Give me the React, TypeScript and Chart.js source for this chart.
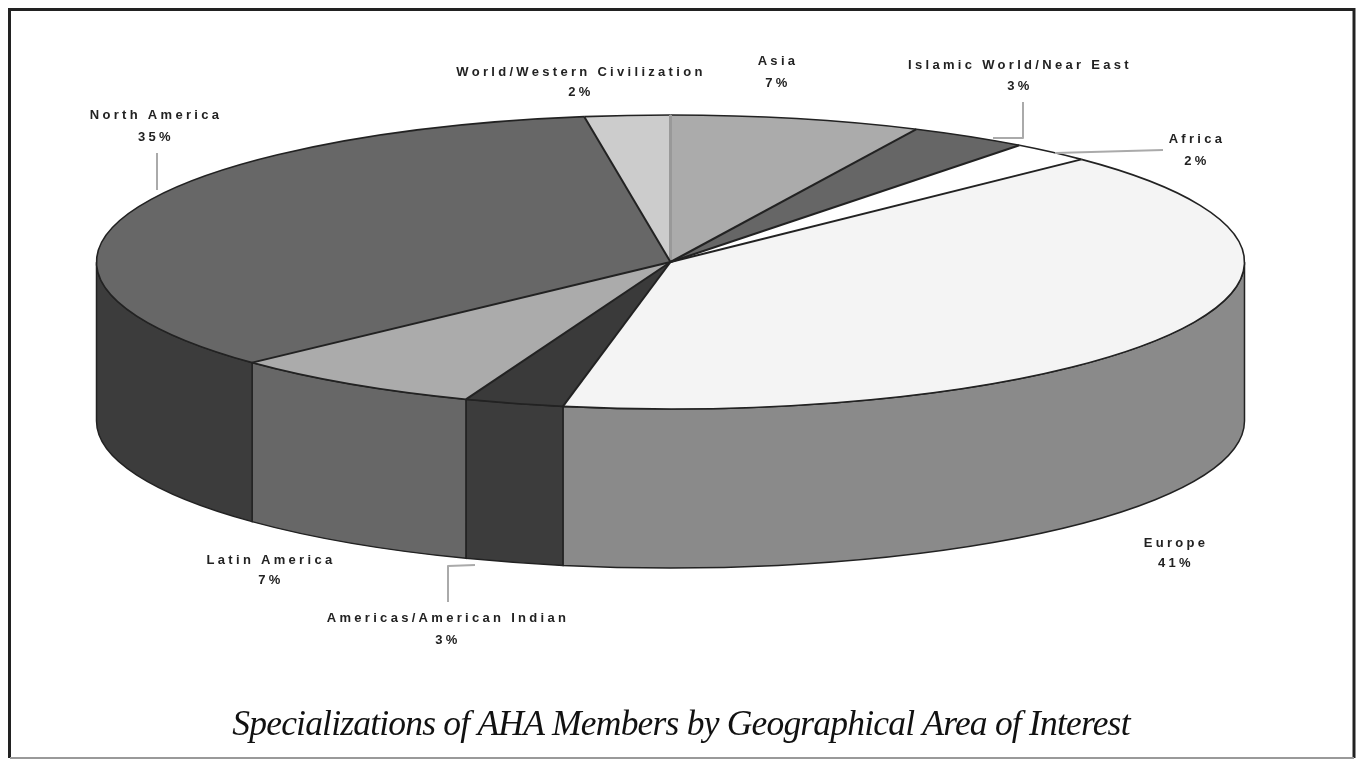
import React, { useEffect, useRef } from "react";
import { Chart, registerables } from "chart.js";

Chart.register(...registerables);

const categories = [
  "Asia",
  "Islamic World/Near East",
  "Africa",
  "Europe",
  "Americas/American Indian",
  "Latin America",
  "North America",
  "World/Western Civilization",
];
const shares = [7.05, 3.35, 2.3, 40.3, 2.8, 7.2, 34.6, 2.4];
const percentLabels = ["7%", "3%", "2%", "41%", "3%", "7%", "35%", "2%"];
const topColors = ["#ababab", "#666666", "#ffffff", "#f4f4f4", "#3a3a3a", "#ababab", "#676767", "#cccccc"];
const wallColors = ["#888888", "#444444", "#dddddd", "#8a8a8a", "#3c3c3c", "#676767", "#3c3c3c", "#999999"];
const chartTitle = "Specializations of AHA Members by Geographical Area of Interest";

// label centre x, first-line y, second-line y
const labelPlaces = [
  [778, 61, 83],
  [1020, 65, 86],
  [1197, 139, 161],
  [1176, 543, 563],
  [448, 618, 640],
  [271, 560, 580],
  [156, 115, 137],
  [581, 72, 92],
];
const leaderLines = [
  [[1023, 102], [1023, 138], [993, 138]],
  [[1163, 150], [1055, 153]],
  [[157, 153], [157, 190]],
  [[448, 602], [448, 566], [475, 565]],
];
const PIE = { cx: 670.5, cy: 262, rx: 574, ry: 147, depth: 159 };

const pie3d = {
  id: "pie3d",
  beforeDraw(chart: any) {
    const { ctx, width, height } = chart;
    ctx.save();
    ctx.fillStyle = "#ffffff";
    ctx.fillRect(0, 0, width, height);
    ctx.strokeStyle = "#222222";
    ctx.lineWidth = 3;
    ctx.beginPath();
    ctx.moveTo(9.5, height - 2);
    ctx.lineTo(9.5, 9.5);
    ctx.lineTo(1354, 9.5);
    ctx.lineTo(1354, height - 2);
    ctx.stroke();
    ctx.strokeStyle = "#999999";
    ctx.lineWidth = 2;
    ctx.beginPath();
    ctx.moveTo(10, height - 2);
    ctx.lineTo(1354, height - 2);
    ctx.stroke();
    ctx.restore();
    // the title box is drawn next, with this tighter tracking
    ctx.letterSpacing = "-0.8px";
  },
  beforeDatasetsDraw(chart: any) {
    const { ctx } = chart;
    ctx.letterSpacing = "0px";
    const arcs = chart.getDatasetMeta(0).data;
    const { cx, cy, rx, ry, depth } = PIE;
    // side wall of the disc, only where a slice faces the viewer
    arcs.forEach((arc: any, i: number) => {
      const a0 = Math.max(arc.startAngle, 0);
      const a1 = Math.min(arc.endAngle, Math.PI);
      if (a1 <= a0) return;
      ctx.beginPath();
      ctx.ellipse(cx, cy, rx, ry, 0, a0, a1);
      ctx.ellipse(cx, cy + depth, rx, ry, 0, a1, a0, true);
      ctx.closePath();
      ctx.fillStyle = wallColors[i];
      ctx.fill();
      ctx.strokeStyle = "#222222";
      ctx.lineWidth = 1.5;
      ctx.stroke();
    });
    // the library draws its circular arcs through this squash
    const first = arcs[0];
    ctx.save();
    ctx.translate(cx, cy);
    ctx.scale(rx / first.outerRadius, ry / first.outerRadius);
    ctx.translate(-first.x, -first.y);
  },
  afterDatasetsDraw(chart: any) {
    const { ctx } = chart;
    ctx.restore();
    const arcs = chart.getDatasetMeta(0).data;
    const { cx, cy, rx, ry } = PIE;
    ctx.save();
    ctx.lineJoin = "round";
    arcs.forEach((arc: any) => {
      ctx.strokeStyle = "#222222";
      ctx.lineWidth = 1.6;
      ctx.beginPath();
      ctx.ellipse(cx, cy, rx, ry, 0, arc.startAngle, arc.endAngle);
      ctx.stroke();
    });
    arcs.forEach((arc: any, i: number) => {
      const isSeam = i === 0;
      ctx.strokeStyle = isSeam ? "#999999" : "#222222";
      ctx.lineWidth = isSeam ? 3 : 2;
      ctx.beginPath();
      ctx.moveTo(cx, cy);
      ctx.lineTo(cx + rx * Math.cos(arc.startAngle), cy + ry * Math.sin(arc.startAngle));
      ctx.stroke();
    });
    // leader lines and labels
    ctx.strokeStyle = "#aaaaaa";
    ctx.lineWidth = 2;
    leaderLines.forEach((line) => {
      ctx.beginPath();
      line.forEach(([x, y], k) => (k ? ctx.lineTo(x, y) : ctx.moveTo(x, y)));
      ctx.stroke();
    });
    ctx.filter = "blur(0.7px)";
    ctx.fillStyle = "#222222";
    ctx.font = 'bold 13px "Liberation Sans"';
    ctx.textAlign = "center";
    ctx.textBaseline = "middle";
    ctx.letterSpacing = "3.3px";
    categories.forEach((name, i) => {
      const [x, y1, y2] = labelPlaces[i];
      ctx.fillText(name, x, y1);
      ctx.fillText(percentLabels[i], x, y2);
    });
    ctx.restore();
  },
};

export default function App() {
  const ref = useRef<HTMLCanvasElement>(null);
  useEffect(() => {
    const chart = new Chart(ref.current as HTMLCanvasElement, {
      type: "pie",
      data: {
        labels: categories,
        datasets: [{ data: shares, backgroundColor: topColors, borderWidth: 0, clip: false } as any],
      },
      options: {
        animation: false,
        responsive: false,
        rotation: 0,
        layout: { padding: { left: 4, right: 0, top: 0, bottom: 13 } },
        plugins: {
          legend: { display: false },
          tooltip: { enabled: false },
          title: {
            display: true,
            text: chartTitle,
            position: "bottom",
            color: "#111111",
            font: { family: '"Liberation Serif"', style: "italic", weight: "normal", size: 35.5 },
            padding: { top: 0, bottom: 0 },
          },
        },
      },
      plugins: [pie3d],
    });
    return () => chart.destroy();
  }, []);
  return (
    <canvas
      ref={ref}
      width={1358}
      height={760}
      style={{ position: "fixed", left: 0, top: 0, display: "block" }}
    />
  );
}
